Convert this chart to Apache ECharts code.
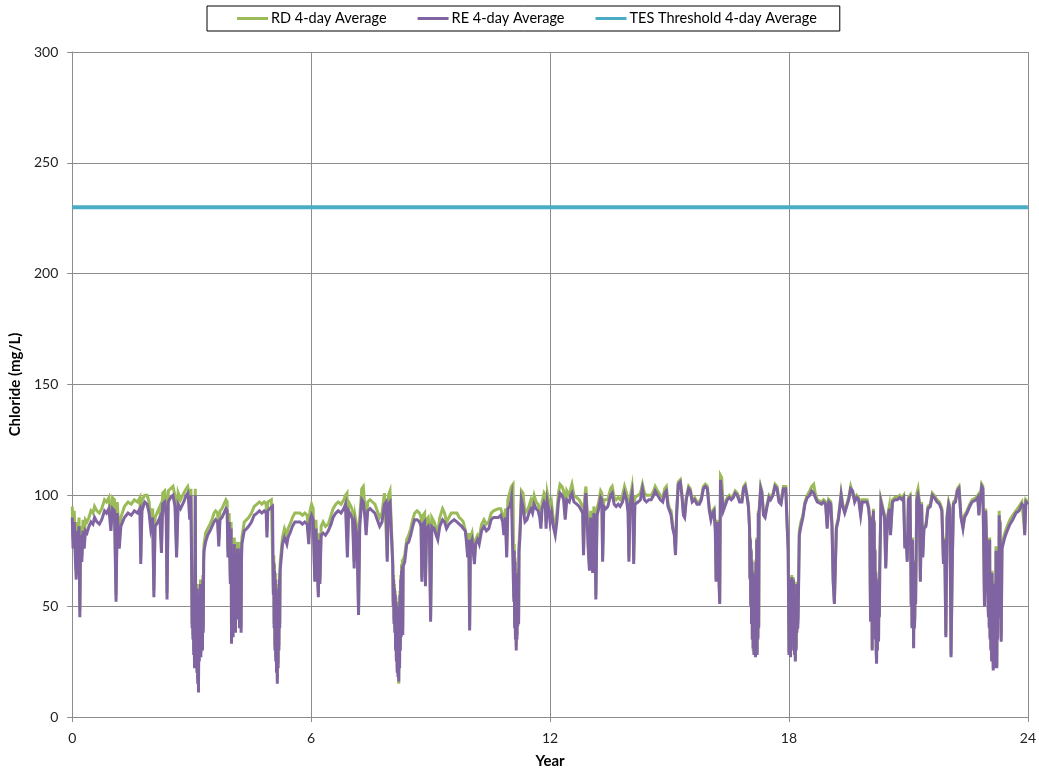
<!DOCTYPE html>
<html>
<head>
<meta charset="utf-8">
<title>Chloride 4-day Average</title>
<script src="https://cdn.jsdelivr.net/npm/echarts@6/dist/echarts.min.js"></script>
<style>
  html, body { margin: 0; padding: 0; background: #ffffff; overflow: hidden; }
  #chart { width: 1039px; height: 774px; }
</style>
</head>
<body>
<div id="chart"></div>
<script>
// Simulation time (years) shared by both modelled series
const years = [
  0.00,0.02,0.05,0.08,0.10,0.12,0.14,0.17,0.19,0.21,0.24,0.27,0.30,
  0.33,0.37,0.42,0.47,0.52,0.56,0.62,0.68,0.74,0.81,0.86,0.92,0.97,
  1.01,1.06,1.10,1.13,1.18,1.22,1.31,1.40,1.48,1.56,1.64,1.70,1.72,1.75,
  1.82,1.88,1.93,1.97,2.02,2.05,2.08,2.15,2.20,2.24,2.27,2.32,2.36,2.38,
  2.41,2.47,2.53,2.58,2.62,2.66,2.72,2.80,2.86,2.90,2.92,2.95,2.98,
  3.00,3.01,3.02,3.03,3.04,3.05,3.06,3.07,3.08,3.09,3.10,3.11,3.12,3.13,3.14,3.15,3.16,3.17,3.18,3.19,3.20,3.21,3.22,3.23,3.24,3.25,3.26,3.27,3.28,3.29,3.30,3.31,
  3.35,3.40,3.46,3.51,3.56,3.60,3.65,3.68,3.71,3.76,3.81,3.86,3.89,3.91,3.94,3.97,3.99,
  4.00,4.01,4.02,4.03,4.04,4.05,4.06,4.07,4.08,4.09,4.10,4.11,4.12,4.13,4.14,4.15,4.16,4.17,4.18,4.19,4.20,4.21,4.22,4.23,4.24,4.25,4.26,
  4.32,4.38,4.43,4.50,4.57,4.64,4.70,4.76,4.82,4.87,4.89,4.91,4.96,
  5.00,5.03,5.05,5.06,5.07,5.08,5.09,5.10,5.11,5.12,5.13,5.14,5.15,5.16,5.17,5.18,5.19,5.20,5.21,5.22,5.24,5.28,
  5.33,5.39,5.42,5.47,5.53,5.59,5.65,5.72,5.78,5.84,5.90,5.94,5.97,
  6.01,6.05,6.09,6.12,6.15,6.18,6.20,6.22,6.25,6.30,6.36,6.43,6.50,6.55,
  6.62,6.68,6.75,6.82,6.86,6.90,6.91,6.94,7.00,7.04,7.08,7.11,7.15,7.19,
  7.22,7.27,7.31,7.35,7.38,7.42,7.48,7.54,7.60,7.66,7.72,7.78,7.84,7.88,7.91,7.94,7.98,
  8.02,8.05,8.06,8.07,8.08,8.09,8.10,8.11,8.12,8.13,8.14,8.15,8.16,8.17,8.18,8.19,8.20,8.21,8.22,8.23,8.24,8.25,8.26,8.27,8.28,8.29,8.30,8.31,
  8.35,8.40,8.45,8.50,8.55,8.60,8.66,8.72,8.76,8.78,8.81,8.85,8.87,8.90,8.94,8.97,
  9.00,9.03,9.09,9.14,9.18,9.23,9.30,9.35,9.40,9.46,9.52,9.59,9.66,9.72,9.78,9.82,9.87,9.90,9.93,9.96,9.98,
  10.00,10.04,10.07,10.10,10.13,10.18,10.22,10.28,10.34,10.40,10.46,10.52,10.58,10.63,10.70,10.76,10.81,10.84,10.88,10.91,10.94,10.99,
  11.03,11.07,11.09,11.10,11.11,11.12,11.13,11.14,11.15,11.16,11.17,11.18,11.19,11.20,11.21,11.22,11.24,
  11.28,11.32,11.37,11.42,11.47,11.52,11.56,11.60,11.65,11.70,11.74,11.77,11.80,11.85,11.88,11.90,11.93,11.97,
  12.00,12.04,12.08,12.13,12.17,12.21,12.25,12.30,12.34,12.38,12.42,12.48,12.52,12.55,12.60,12.67,12.73,12.78,12.82,12.84,12.87,12.90,12.93,12.96,12.99,
  13.02,13.05,13.07,13.10,13.13,13.15,13.18,13.22,13.27,13.30,13.32,13.35,13.40,13.45,13.52,13.56,13.61,13.66,13.71,13.76,13.82,13.87,13.92,13.96,13.98,
  14.01,14.06,14.08,14.10,14.13,14.21,14.27,14.32,14.37,14.42,14.48,14.54,14.60,14.64,14.70,14.77,14.83,14.88,14.92,14.96,
  15.00,15.04,15.08,15.12,15.15,15.18,15.22,15.27,15.31,15.35,15.38,15.42,15.48,15.52,15.57,15.63,15.69,15.75,15.80,15.85,15.90,15.95,
  16.00,16.04,16.08,16.12,16.15,16.17,16.20,16.23,16.26,16.28,16.31,16.35,16.40,16.45,16.50,16.55,16.60,16.65,16.70,16.76,16.82,16.86,16.90,16.94,16.98,
  17.01,17.02,17.03,17.04,17.05,17.06,17.07,17.08,17.09,17.10,17.11,17.12,17.13,17.14,17.15,17.16,17.17,17.18,17.19,17.20,17.21,17.22,17.23,17.24,17.25,
  17.26,17.29,17.32,17.36,17.40,17.45,17.50,17.54,17.60,17.65,17.70,17.75,17.80,17.86,17.92,17.95,17.98,
  18.00,18.01,18.02,18.03,18.04,18.05,18.06,18.07,18.08,18.09,18.10,18.11,18.12,18.13,18.14,18.15,18.16,18.17,18.18,18.19,18.20,18.21,18.22,18.23,
  18.26,18.30,18.35,18.40,18.46,18.52,18.57,18.62,18.66,18.71,18.76,18.82,18.87,18.92,18.96,
  19.00,19.05,19.08,19.11,19.14,19.16,19.19,19.24,19.28,19.31,19.35,19.40,19.45,19.50,19.55,19.60,19.65,19.70,19.75,19.80,19.84,19.90,19.96,
  20.00,
  20.03,20.04,20.05,20.06,20.07,20.08,20.09,20.10,20.11,20.12,20.13,20.14,20.15,20.16,20.17,20.18,20.19,20.20,20.21,20.22,20.23,20.24,20.25,20.26,20.27,20.28,
  20.31,20.35,20.40,20.43,20.47,20.52,20.55,20.60,20.66,20.72,20.78,20.84,20.88,20.91,20.94,20.97,
  21.00,21.04,
  21.06,21.07,21.08,21.09,21.10,21.11,21.12,21.13,21.14,21.15,21.16,21.17,21.18,
  21.21,21.24,21.27,21.30,21.33,21.36,21.39,21.44,21.49,21.55,21.60,21.65,21.72,21.78,21.84,21.88,21.91,21.94,21.97,
  22.01,22.04,22.07,22.10,22.13,22.18,22.23,22.27,22.32,22.37,22.41,22.47,22.54,22.60,22.65,22.70,22.74,22.77,22.80,22.84,22.87,22.89,22.91,22.94,22.98,
  23.01,23.02,23.03,23.04,23.05,23.06,23.07,23.08,23.09,23.10,23.11,23.12,23.13,23.14,23.15,23.16,23.17,23.18,23.19,23.20,
  23.21,23.22,23.23,23.24,23.25,23.26,23.27,23.28,23.29,23.30,23.31,23.32,23.33,23.34,23.35,
  23.42,23.48,23.55,23.62,23.70,23.78,23.85,23.90,23.92,23.95,24.00
];

// RD 4-day average chloride (mg/L)
const rdValues = [
  95,80,93,74,66,88,68,90,48,86,73,89,80,
  89,88,90,93,92,95,93,92,94,98,97,99,88,
  99,98,55,97,80,90,95,97,96,98,97,99,72,98,
  100,100,97,89,94,57,90,93,95,77,101,102,95,56,
  102,103,104,100,75,101,98,101,103,104,102,93,103,
  66,42,60,37,62,30,57,24,62,103,47,27,60,22,57,17,52,13,47,27,60,32,62,29,57,34,62,32,64,40,73,78,
  83,85,87,89,92,93,92,80,93,94,96,98,97,75,92,63,88,
  35,75,42,73,38,77,47,81,44,73,40,77,47,75,52,79,46,73,52,77,42,75,50,79,40,73,81,
  88,89,90,92,95,96,97,96,97,96,84,97,97,
  98,98,57,73,42,69,32,65,27,60,22,57,17,52,24,57,32,65,42,69,73,81,
  85,82,85,87,90,92,92,92,91,92,91,81,93,
  96,94,63,89,73,56,83,62,86,88,86,87,91,94,
  96,97,96,98,100,101,75,97,95,93,70,90,86,48,
  90,103,104,94,86,97,98,97,96,93,90,92,101,101,72,100,102,
  102,70,52,64,44,60,40,57,32,54,27,50,22,47,20,52,15,47,24,57,32,64,39,69,42,71,40,71,
  73,80,82,85,89,92,93,92,90,63,91,92,61,89,90,86,
  45,90,88,85,83,90,94,92,88,90,92,92,92,90,89,88,88,82,74,83,41,
  81,83,77,71,80,82,81,87,89,87,88,92,93,93,94,94,91,84,94,74,98,98,
  104,105,54,78,42,72,37,64,32,60,37,62,43,67,44,78,83,
  102,101,92,93,95,98,96,100,97,96,93,88,97,101,100,88,101,97,
  92,96,89,86,92,101,105,104,102,91,102,100,103,105,100,99,98,98,95,75,99,104,93,77,68,
  93,72,67,95,88,55,94,97,102,101,72,98,98,98,103,104,99,98,99,98,100,104,101,95,72,
  99,104,98,71,99,100,101,105,101,100,100,100,102,104,102,100,99,103,104,97,
  94,93,86,83,74,93,106,107,101,92,91,99,104,103,98,99,97,97,99,104,105,104,
  94,90,93,94,85,62,89,71,52,109,108,94,94,99,100,99,100,102,101,98,98,104,105,101,96,
  86,63,81,51,76,43,71,35,66,30,63,29,59,33,65,28,71,31,81,29,76,36,93,41,93,
  93,104,102,92,91,96,100,99,101,105,104,98,97,104,104,89,76,
  29,63,31,61,28,59,36,64,41,61,46,63,31,61,29,56,26,53,31,56,39,61,42,47,
  84,88,91,97,100,102,104,105,101,98,98,97,98,97,86,
  98,97,87,62,52,65,86,90,96,101,96,93,93,99,104,104,98,100,99,92,98,98,98,
  95,
  89,61,44,86,51,91,31,71,46,94,61,89,51,76,36,66,31,25,56,31,61,41,35,63,46,68,
  98,98,91,68,90,95,83,98,99,99,100,99,100,77,83,71,
  99,100,
  71,51,76,41,81,46,71,32,61,41,46,66,52,
  101,103,98,62,97,73,86,87,95,96,101,100,98,97,94,70,81,37,91,
  97,95,28,68,97,98,103,104,91,86,91,93,96,98,98,99,100,92,99,105,104,79,51,94,94,
  46,71,41,81,36,66,31,61,26,66,31,56,22,51,26,61,23,56,29,77,
  31,23,62,37,52,72,47,93,62,89,52,77,36,57,78,
  83,86,89,91,93,95,97,97,83,98,97
];

// RE 4-day average chloride (mg/L)
const reValues = [
  90,76,88,70,62,84,64,86,45,82,70,84,76,
  84,83,86,88,87,90,88,87,89,93,92,94,84,
  94,93,52,92,76,86,90,92,91,93,92,94,69,93,
  97,96,92,85,90,54,86,88,90,74,96,97,90,53,
  97,99,100,95,72,96,94,97,100,101,98,89,100,
  64,40,58,35,60,28,55,22,60,100,45,25,58,20,55,15,50,11,45,25,58,30,60,27,55,32,60,30,62,38,70,75,
  79,82,84,86,88,89,88,77,89,90,92,94,93,72,88,60,85,
  33,72,40,70,36,74,45,78,42,70,38,74,45,72,50,76,44,70,50,74,40,72,48,76,38,70,78,
  84,85,86,88,91,92,93,92,93,92,81,93,94,
  94,95,55,70,40,66,30,62,25,58,20,55,15,50,22,55,30,62,40,66,70,78,
  81,78,81,83,86,88,88,88,87,88,87,78,89,
  91,89,61,85,70,54,80,60,82,83,82,84,87,90,
  92,93,92,94,96,96,72,93,91,89,67,86,82,46,
  86,98,97,90,82,93,94,93,92,89,86,88,96,97,70,96,97,
  97,68,50,62,42,58,38,55,30,52,25,48,20,45,18,50,16,45,22,55,30,62,36,66,40,68,37,68,
  70,78,79,82,86,89,89,88,86,61,87,88,59,85,86,82,
  43,86,85,82,80,86,89,88,85,87,88,89,88,87,86,85,84,79,72,80,39,
  78,80,75,69,78,80,78,84,86,84,85,89,90,90,90,91,88,82,90,72,94,95,
  99,99,52,75,40,70,35,62,30,58,35,60,41,65,42,75,80,
  98,95,88,89,92,94,92,96,94,93,90,85,94,97,96,85,97,93,
  88,92,86,82,88,97,101,100,98,89,98,97,100,101,97,96,95,95,92,73,95,101,90,75,66,
  90,70,65,92,85,53,91,94,99,98,70,95,94,95,100,101,96,95,96,95,97,101,98,92,70,
  96,101,95,69,96,97,98,103,98,97,98,98,100,102,100,98,97,101,102,95,
  93,91,85,82,73,92,105,106,100,91,90,98,103,102,97,98,96,96,98,103,104,103,
  93,89,92,93,84,61,88,70,51,107,107,93,93,98,99,98,99,101,100,97,97,103,104,100,95,
  85,62,80,50,75,42,70,35,65,31,62,28,58,32,64,27,70,30,80,28,75,35,92,40,92,
  92,103,101,91,90,95,99,98,100,104,103,97,96,103,103,88,75,
  28,62,30,60,27,58,35,63,40,60,45,62,30,60,28,55,25,52,30,55,38,60,40,45,
  82,86,90,96,99,100,102,101,99,97,97,96,97,96,85,
  97,96,86,61,51,64,85,89,95,100,95,92,92,98,103,102,97,99,98,91,97,97,97,
  94,
  88,60,43,85,50,90,30,70,45,93,60,88,50,75,35,65,30,24,55,30,60,40,34,62,45,67,
  97,97,90,67,88,94,82,97,98,98,99,98,99,76,82,70,
  98,99,
  70,50,75,40,80,45,70,31,60,40,45,65,51,
  98,100,97,61,96,72,85,86,94,95,100,99,97,96,93,69,80,36,90,
  96,94,27,67,96,97,102,103,90,85,90,92,95,97,97,98,99,91,98,104,103,78,50,93,93,
  45,70,40,80,35,65,30,60,25,65,30,55,21,50,25,60,22,55,28,75,
  30,22,60,35,50,70,45,91,60,88,50,75,34,55,76,
  81,84,87,89,92,93,96,95,82,97,96
];

// TES threshold, constant over the whole period
const thresholdYears = [0, 24];
const thresholdValues = [230, 230];

// Axis tick values
const xTicks = [0, 6, 12, 18, 24];
const yTicks = [0, 50, 100, 150, 200, 250, 300];

const seriesNames = ['RD 4-day Average', 'RE 4-day Average', 'TES Threshold 4-day Average'];

if (years.length !== rdValues.length || years.length !== reValues.length) {
  throw new Error('length mismatch: ' + years.length + ' ' + rdValues.length + ' ' + reValues.length);
}

const pairs = (xs, ys) => xs.map((x, i) => [x, ys[i]]);

const FONT = 'Lato, "Open Sans", sans-serif';
const GRID_COLOR = '#8c8c8c';

const chart = echarts.init(document.getElementById('chart'), null, { renderer: 'canvas' });

chart.setOption({
  animation: false,
  backgroundColor: '#ffffff',
  textStyle: { fontFamily: FONT },
  legend: {
    data: seriesNames,
    left: 207,
    top: 6,
    padding: [5, 23, 5, 30],
    itemGap: 31,
    itemWidth: 31,
    itemHeight: 3,
    icon: 'rect',
    borderColor: '#000000',
    borderWidth: 1,
    textStyle: { fontFamily: FONT, fontSize: 14.5, color: '#000000', padding: [0, 0, 0, -2] }
  },
  grid: { left: 71, right: 6, top: 52, bottom: 54, containLabel: false },
  xAxis: {
    type: 'value',
    min: xTicks[0],
    max: xTicks[xTicks.length - 1],
    interval: xTicks[1] - xTicks[0],
    name: 'Year',
    nameLocation: 'middle',
    nameGap: 37,
    nameTextStyle: { fontFamily: FONT, fontSize: 15, fontWeight: 'bold', color: '#000000' },
    axisLine: { show: true, onZero: false, lineStyle: { color: GRID_COLOR, width: 1 } },
    axisTick: { show: true, inside: false, length: 5, lineStyle: { color: GRID_COLOR } },
    axisLabel: { margin: 14, fontFamily: FONT, fontSize: 14, color: '#1f1f1f' },
    splitLine: { show: true, lineStyle: { color: GRID_COLOR, width: 1 } }
  },
  yAxis: {
    type: 'value',
    min: yTicks[0],
    max: yTicks[yTicks.length - 1],
    interval: yTicks[1] - yTicks[0],
    name: 'Chloride (mg/L)',
    nameLocation: 'middle',
    nameGap: 43,
    nameRotate: 90,
    nameTextStyle: { fontFamily: FONT, fontSize: 15, fontWeight: 'bold', color: '#000000' },
    axisLine: { show: true, lineStyle: { color: GRID_COLOR, width: 1 } },
    axisTick: { show: true, inside: false, length: 5, lineStyle: { color: GRID_COLOR } },
    axisLabel: { margin: 14, fontFamily: FONT, fontSize: 14, color: '#1f1f1f' },
    splitLine: { show: true, lineStyle: { color: GRID_COLOR, width: 1 } }
  },
  series: [
    {
      name: seriesNames[0],
      type: 'line',
      data: pairs(years, rdValues),
      showSymbol: false,
      symbol: 'none',
      itemStyle: { color: '#9bbb59' },
      lineStyle: { color: '#9bbb59', width: 3, join: 'miter' },
      z: 2
    },
    {
      name: seriesNames[1],
      type: 'line',
      data: pairs(years, reValues),
      showSymbol: false,
      symbol: 'none',
      itemStyle: { color: '#8064a2' },
      lineStyle: { color: '#8064a2', width: 3, join: 'miter' },
      z: 3
    },
    {
      name: seriesNames[2],
      type: 'line',
      data: pairs(thresholdYears, thresholdValues),
      showSymbol: false,
      symbol: 'none',
      itemStyle: { color: '#4bacc6' },
      lineStyle: { color: '#4bacc6', width: 4 },
      z: 4
    }
  ]
});
</script>
</body>
</html>
